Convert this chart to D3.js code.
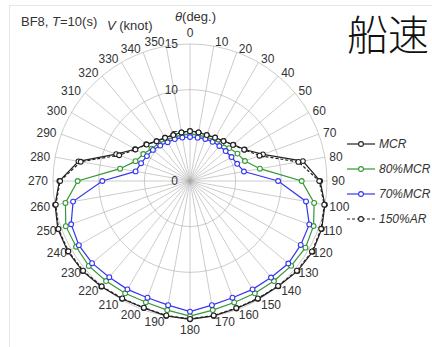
<!DOCTYPE html>
<html>
<head>
<meta charset="utf-8">
<script src="https://cdn.jsdelivr.net/npm/d3@7"></script>
<style>
  html, body { margin: 0; padding: 0; background: #fff; }
  svg { display: block; font-family: "Liberation Sans", Arial, sans-serif; }
</style>
</head>
<body>
<svg id="chart" width="432" height="347"></svg>
<script>
// heading angles (deg.)
const angles = [0, 10, 20, 30, 40, 50, 60, 70, 80, 90, 100, 110, 120, 130, 140, 150, 160, 170,
                180, 190, 200, 210, 220, 230, 240, 250, 260, 270, 280, 290, 300, 310, 320, 330, 340, 350];

// ship speed V (knot)
const mcr = [5.48, 5.41, 5.36, 5.5, 5.72, 6.2, 6.9, 8.5, 12.55, 14.25, 15.0, 15.35, 15.5, 15.35, 15.05, 14.9, 14.85, 15.0,
             15.15, 15.0, 14.8, 14.88, 15.1, 15.35, 15.45, 15.4, 15.0, 14.3, 12.4, 8.6, 6.95, 6.25, 5.7, 5.48, 5.36, 5.41];
const mcr80 = [5.15, 5.12, 5.12, 5.2, 5.35, 5.6, 6.0, 6.4, 7.77, 12.23, 13.8, 14.4, 14.6, 14.45, 14.3, 14.2, 14.15, 14.35,
               14.8, 14.35, 14.13, 14.2, 14.3, 14.47, 14.4, 14.47, 13.85, 12.3, 7.77, 6.35, 5.9, 5.5, 5.35, 5.2, 5.12, 5.12];
const mcr70 = [4.82, 4.82, 4.9, 4.95, 5.0, 5.1, 5.25, 5.5, 6.0, 9.65, 12.9, 13.9, 14.0, 14.05, 13.8, 13.7, 13.6, 13.8,
               14.3, 13.8, 13.6, 13.7, 13.75, 14.0, 14.05, 13.85, 13.0, 9.6, 6.05, 5.7, 5.45, 5.3, 5.07, 4.9, 4.88, 4.83];
const ar150 = [5.46, 5.4, 5.35, 5.48, 5.7, 6.15, 6.85, 8.1, 12.05, 14.15, 14.92, 15.28, 15.42, 15.28, 15.0, 14.85, 14.8, 14.95,
               15.1, 14.95, 14.76, 14.84, 15.04, 15.28, 15.38, 15.33, 14.92, 14.22, 12.15, 8.25, 6.9, 6.2, 5.68, 5.46, 5.35, 5.4];

const radialTicks = [0, 5, 10, 15];
const angleTicks = angles;

const seriesNames = ["MCR", "80%MCR", "70%MCR", "150%AR"];
const seriesValues = [mcr, mcr80, mcr70, ar150];
const seriesColors = ["#222", "#339933", "#3636ee", "#222"];
const seriesDash = [null, null, null, "3,2"];

const svg = d3.select("#chart");
const cx = 190, cy = 181;

// light frame of the original picture
svg.append("rect")
    .attr("x", 9.5).attr("y", 5.5)
    .attr("width", 500).attr("height", 500)
    .attr("fill", "none")
    .attr("stroke", "#e6e6e6");

const r = d3.scaleLinear().domain([0, 15]).range([0, 137]);
const rad = d => d * Math.PI / 180;

const g = svg.append("g").attr("transform", `translate(${cx},${cy})`);

// grid circles
g.append("g")
    .selectAll("circle")
    .data(radialTicks.filter(d => d > 0))
    .join("circle")
        .attr("r", d => r(d))
        .attr("fill", "none")
        .attr("stroke", "#aaa")
        .attr("stroke-opacity", 0.6);

// spokes
g.append("g")
    .selectAll("line")
    .data(angleTicks)
    .join("line")
        .attr("x1", 0).attr("y1", 0)
        .attr("x2", d => r(15) * Math.sin(rad(d)))
        .attr("y2", d => -r(15) * Math.cos(rad(d)))
        .attr("stroke", "#aaa")
        .attr("stroke-opacity", 0.6);

// angle labels: box sits just outside the ring
const labR = 141;
g.append("g")
    .selectAll("text")
    .data(angleTicks)
    .join("text")
        .attr("x", d => {
            const x = labR * Math.sin(rad(d));
            if (d === 0 || d === 180) return x;
            return d < 180 ? x + 0.5 : x - 1;
        })
        .attr("y", d => {
            const y = -labR * Math.cos(rad(d));
            if (d === 0) return y - 7;
            if (d === 180) return y + 8;
            return d > 90 && d < 270 ? y + 1.5 : y;
        })
        .attr("dy", "0.35em")
        .attr("text-anchor", d => (d === 0 || d === 180) ? "middle" : (d < 180 ? "start" : "end"))
        .attr("font-size", 12)
        .attr("fill", "#333")
        .text(d => d);

// radial labels
g.append("g")
    .selectAll("text")
    .data(radialTicks)
    .join("text")
        .attr("x", -12)
        .attr("y", d => -r(d))
        .attr("dy", "0.35em")
        .attr("text-anchor", "end")
        .attr("font-size", 12)
        .attr("fill", "#333")
        .text(d => d);

// series
const line = d3.lineRadial()
    .angle((d, i) => rad(angles[i]))
    .radius(d => r(d))
    .curve(d3.curveLinearClosed);

seriesValues.forEach((vals, k) => {
    const s = g.append("g");
    s.append("path")
        .attr("d", line(vals))
        .attr("fill", "none")
        .attr("stroke", seriesColors[k])
        .attr("stroke-width", 1.2)
        .attr("stroke-dasharray", seriesDash[k]);
    s.selectAll("circle")
        .data(vals)
        .join("circle")
            .attr("cx", (d, i) => r(d) * Math.sin(rad(angles[i])))
            .attr("cy", (d, i) => -r(d) * Math.cos(rad(angles[i])))
            .attr("r", 2.4)
            .attr("fill", "#fff")
            .attr("stroke", seriesColors[k])
            .attr("stroke-width", 1.1);
});

// legend
const legend = svg.append("g")
    .selectAll("g")
    .data(seriesNames)
    .join("g")
        .attr("transform", (d, i) => `translate(347,${144 + i * 25})`);
legend.append("line")
    .attr("x1", 0).attr("x2", 28)
    .attr("stroke", (d, i) => seriesColors[i])
    .attr("stroke-width", 1.2)
    .attr("stroke-dasharray", (d, i) => seriesDash[i]);
legend.append("circle")
    .attr("cx", 14).attr("r", 2.4)
    .attr("fill", "#fff")
    .attr("stroke", (d, i) => seriesColors[i])
    .attr("stroke-width", 1.1);
legend.append("text")
    .attr("x", 32)
    .attr("dy", "0.35em")
    .attr("font-size", 12)
    .attr("font-style", "italic")
    .attr("fill", "#333")
    .text(d => d);

// titles
const t1 = svg.append("text").attr("x", 21).attr("y", 26).attr("font-size", 13).attr("fill", "#333");
t1.append("tspan").text("BF8, ");
t1.append("tspan").attr("font-style", "italic").text("T");
t1.append("tspan").text("=10(s)");

const t2 = svg.append("text").attr("x", 107).attr("y", 30).attr("font-size", 13).attr("fill", "#333");
t2.append("tspan").attr("font-style", "italic").text("V");
t2.append("tspan").text(" (knot)");

const t3 = svg.append("text").attr("x", 175).attr("y", 21).attr("font-size", 13).attr("fill", "#333");
t3.append("tspan").attr("font-style", "italic").text("θ");
t3.append("tspan").text("(deg.)");

svg.append("text")
    .attr("x", 347).attr("y", 50)
    .attr("font-size", 41)
    .attr("font-family", "'Noto Sans CJK JP', 'Noto Sans CJK SC', sans-serif")
    .attr("font-weight", 300)
    .attr("fill", "#111")
    .text("船速");
</script>
</body>
</html>
